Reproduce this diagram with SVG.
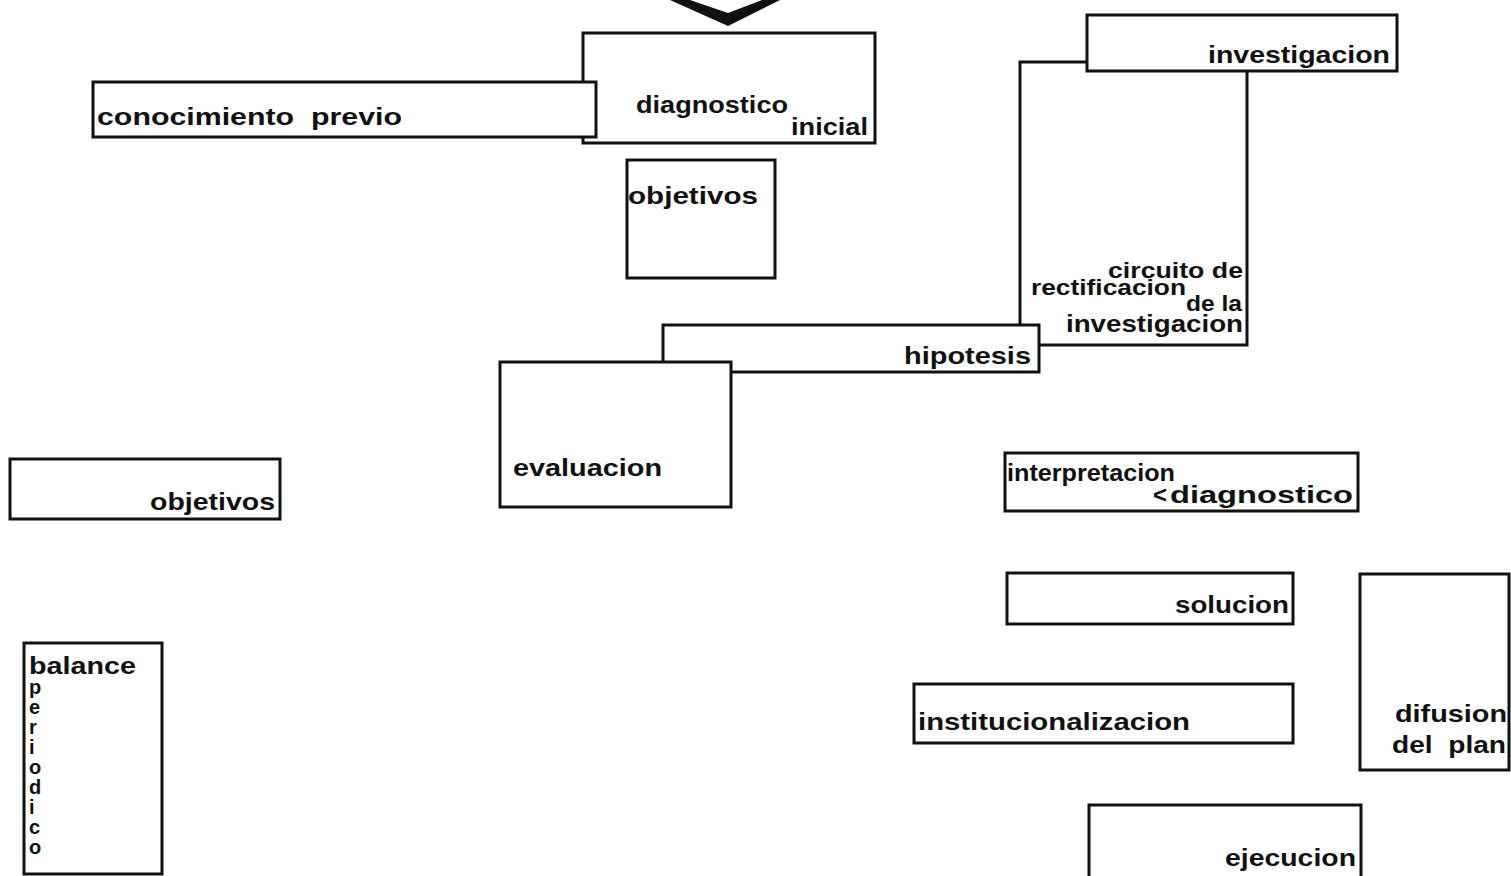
<svg xmlns="http://www.w3.org/2000/svg" width="1511" height="876" viewBox="0 0 1511 876">
<style>
.box{fill:#fff;stroke:#111;stroke-width:3}
text{font-family:"Liberation Sans",Arial,sans-serif;font-weight:bold;fill:#111;font-size:24px}
.sm{font-size:22px}
.vt{font-size:20px}
.pre{white-space:pre}
</style>
<rect width="1511" height="876" fill="#fff"/>
<g id="connectors">
<polygon points="670,0 728,26 780,0 762,0 728,13 690,0" fill="#111"/>
</g>
<g id="diagnostico-inicial">
<rect class="box" x="583" y="33" width="292" height="110"/>
<text x="636" y="113" textLength="152" lengthAdjust="spacingAndGlyphs">diagnostico</text>
<text x="791" y="135" textLength="77" lengthAdjust="spacingAndGlyphs">inicial</text>
</g>
<g id="conocimiento-previo">
<rect class="box" x="93" y="82" width="503" height="55"/>
<text class="pre" x="97" y="125" font-size="26" textLength="305" lengthAdjust="spacingAndGlyphs">conocimiento  previo</text>
</g>
<g id="objetivos-1">
<rect class="box" x="627" y="160" width="148" height="118"/>
<text x="628" y="204" textLength="130" lengthAdjust="spacingAndGlyphs">objetivos</text>
</g>
<g id="circuito-rectificacion">
<rect class="box" x="1020" y="62" width="227" height="283"/>
<text class="sm" x="1108" y="278" textLength="135" lengthAdjust="spacingAndGlyphs">circuito de</text>
<text class="sm" x="1031" y="295" textLength="155" lengthAdjust="spacingAndGlyphs">rectificacion</text>
<text class="sm" x="1186" y="311" textLength="56" lengthAdjust="spacingAndGlyphs">de la</text>
<text x="1066" y="332" textLength="177" lengthAdjust="spacingAndGlyphs">investigacion</text>
</g>
<g id="investigacion">
<rect class="box" x="1087" y="15" width="310" height="56"/>
<text x="1208" y="63" font-size="25" textLength="182" lengthAdjust="spacingAndGlyphs">investigacion</text>
</g>
<g id="hipotesis">
<rect class="box" x="663" y="325" width="376" height="47"/>
<text x="904" y="364" textLength="127" lengthAdjust="spacingAndGlyphs">hipotesis</text>
</g>
<g id="evaluacion">
<rect class="box" x="500" y="362" width="231" height="145"/>
<text x="513" y="476" textLength="149" lengthAdjust="spacingAndGlyphs">evaluacion</text>
</g>
<g id="objetivos-2">
<rect class="box" x="10" y="459" width="270" height="60"/>
<text x="150" y="510" textLength="125" lengthAdjust="spacingAndGlyphs">objetivos</text>
</g>
<g id="interpretacion-diagnostico">
<rect class="box" x="1005" y="453" width="353" height="58"/>
<text x="1007" y="481" textLength="168" lengthAdjust="spacingAndGlyphs">interpretacion</text>
<text x="1153" y="503" font-size="18">&lt;</text>
<text x="1170" y="503" textLength="183" lengthAdjust="spacingAndGlyphs">diagnostico</text>
</g>
<g id="solucion">
<rect class="box" x="1007" y="573" width="286" height="51"/>
<text x="1175" y="613" textLength="114" lengthAdjust="spacingAndGlyphs">solucion</text>
</g>
<g id="difusion-del-plan">
<rect class="box" x="1360" y="574" width="149" height="196"/>
<text x="1395" y="722" textLength="112" lengthAdjust="spacingAndGlyphs">difusion</text>
<text class="pre" x="1392" y="753" textLength="114" lengthAdjust="spacingAndGlyphs">del  plan</text>
</g>
<g id="institucionalizacion">
<rect class="box" x="914" y="684" width="379" height="59"/>
<text x="918" y="730" textLength="272" lengthAdjust="spacingAndGlyphs">institucionalizacion</text>
</g>
<g id="ejecucion">
<rect class="box" x="1089" y="805" width="272" height="80"/>
<text x="1225" y="866" textLength="131" lengthAdjust="spacingAndGlyphs">ejecucion</text>
</g>
<g id="balance-periodico">
<rect class="box" x="24" y="643" width="138" height="231"/>
<text x="29" y="674" textLength="107" lengthAdjust="spacingAndGlyphs">balance</text>
<text class="vt" x="29" y="694">p</text>
<text class="vt" x="29" y="714">e</text>
<text class="vt" x="29" y="734">r</text>
<text class="vt" x="29" y="754">i</text>
<text class="vt" x="29" y="774">o</text>
<text class="vt" x="29" y="794">d</text>
<text class="vt" x="29" y="814">i</text>
<text class="vt" x="29" y="834">c</text>
<text class="vt" x="29" y="854">o</text>
</g>
</svg>
